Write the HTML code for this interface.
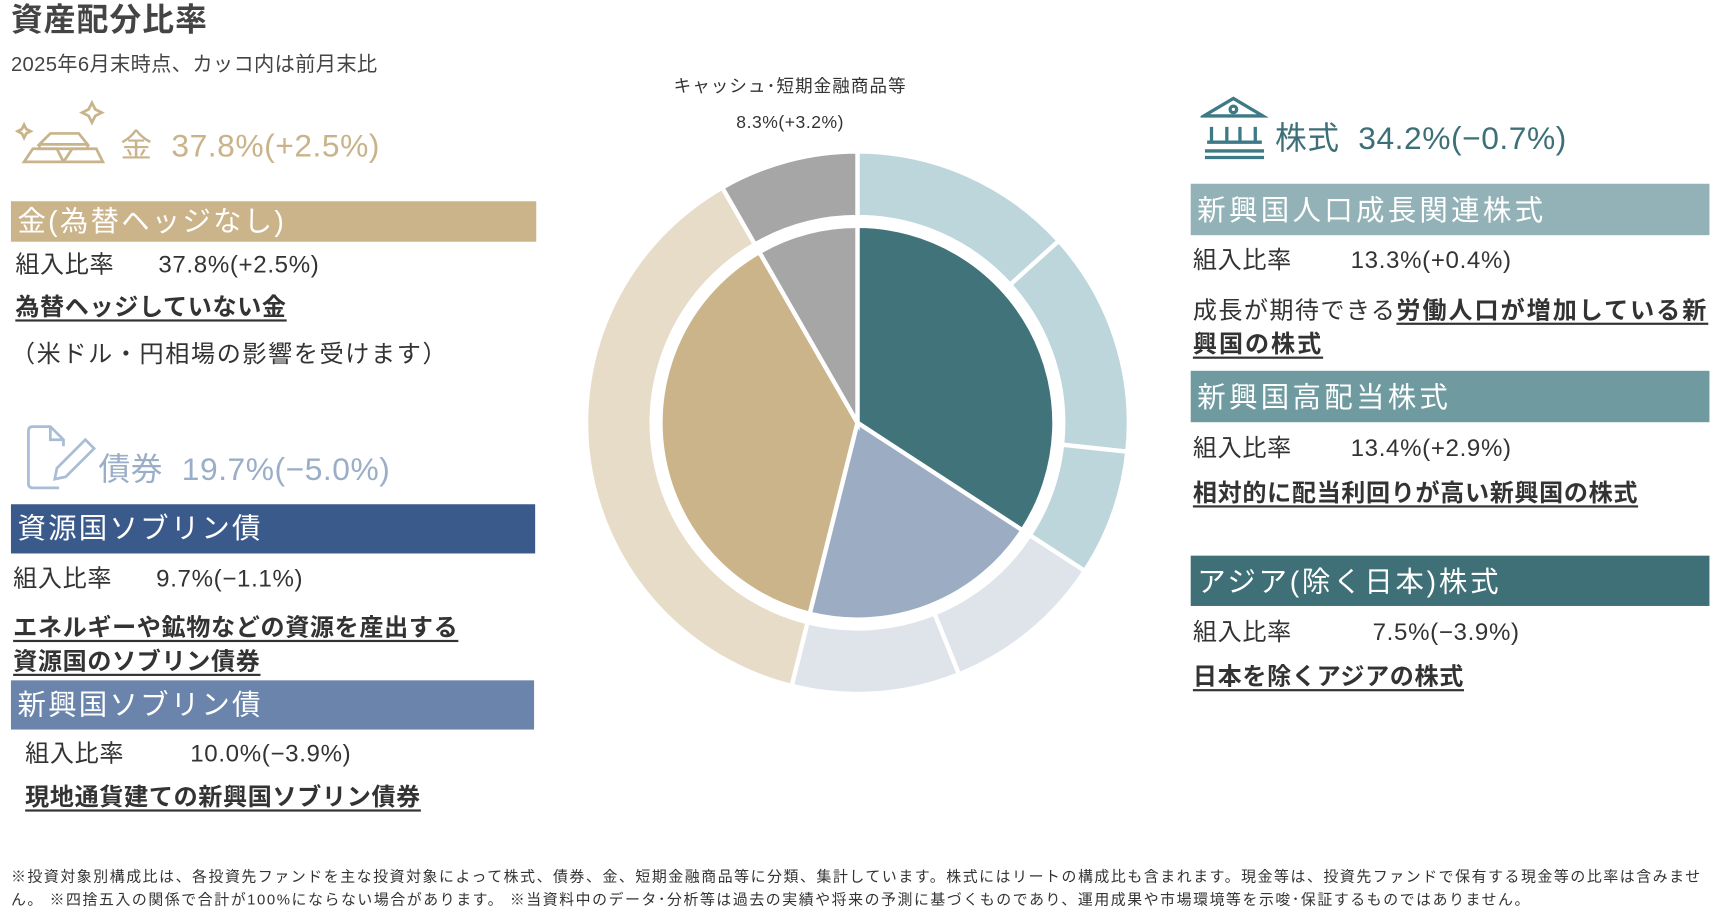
<!DOCTYPE html>
<html><head><meta charset="utf-8">
<style>
html,body{margin:0;padding:0;background:#fff;}
body{width:1716px;height:921px;overflow:hidden;font-family:"Liberation Sans","Noto Sans CJK JP",sans-serif;color:#333;}
#stage{position:absolute;left:0;top:0;width:1568px;height:842px;transform:scale(1.0944,1.0938);transform-origin:0 0;}
.a{position:absolute;white-space:nowrap;line-height:1;}
.bar{position:absolute;color:#fff;font-size:26px;line-height:1;box-sizing:border-box;padding-left:6px;letter-spacing:2px;}
.u{text-decoration:underline;text-decoration-thickness:2px;text-underline-offset:4px;font-weight:bold;color:#333;letter-spacing:2.2px;}
.r{font-size:22px;color:#333;letter-spacing:0.6px;}
</style></head><body>
<div id="stage">
<div class="a" style="left:10px;top:5px;font-size:29px;font-weight:bold;color:#444;letter-spacing:1px">資産配分比率</div>
<div class="a" style="left:10px;top:50px;font-size:18.5px;color:#444;letter-spacing:0.3px">2025年6月末時点、カッコ内は前月末比</div>

<svg style="position:absolute;left:14px;top:90px" width="85" height="65" fill="none" stroke="#c9b38a" stroke-width="2.5">
<path d="M70 4 l3 6 6 3 -6 3 -3 6 -3 -6 -6 -3 6 -3z"/><path d="M8 24 l2 4 4 2 -4 2 -2 4 -2 -4 -4 -2 4 -2z"/>
<path d="M22 42 l10 -10 h26 l8 10 z M22 42 v4 h44 v-4"/><path d="M8 58 l8 -12 h22 l6 12 z M44 58 l8 -12 h22 l6 12 z M8 58 h72"/></svg>
<div class="a" style="left:110px;top:120px;font-size:29px;color:#c9b38a;letter-spacing:0.5px">金&nbsp;&nbsp;37.8%(+2.5%)</div>
<div class="bar" style="left:10px;top:184px;width:480px;height:37px;background:#cbb38a;padding-top:5px">金(為替ヘッジなし)</div>
<div class="a r" style="left:14px;top:231px">組入比率&nbsp;&nbsp;&nbsp;&nbsp;&nbsp;&nbsp;37.8%(+2.5%)</div>
<div class="a r u" style="left:14px;top:270px">為替ヘッジしていない金</div>
<div class="a r" style="left:10px;top:313px;letter-spacing:1.5px">（米ドル・円相場の影響を受けます）</div>

<svg style="position:absolute;left:24px;top:388px" width="70" height="62" fill="none" stroke="#a9bdd6" stroke-width="2.5">
<path d="M30 58 H6 Q2 58 2 54 V6 Q2 2 6 2 H22 L34 14 V20"/><path d="M22 2 V14 H34"/><path d="M26 50 l2 -10 26 -26 8 8 -26 26 z"/></svg>
<div class="a" style="left:90px;top:416px;font-size:29px;color:#9aaec7;letter-spacing:0.5px">債券&nbsp;&nbsp;19.7%(−5.0%)</div>
<div class="bar" style="left:10px;top:461px;width:479px;height:45px;background:#3a5a8c;padding-top:9px">資源国ソブリン債</div>
<div class="a r" style="left:12px;top:518px">組入比率&nbsp;&nbsp;&nbsp;&nbsp;&nbsp;&nbsp;9.7%(−1.1%)</div>
<div class="a r u" style="left:12px;top:558px;line-height:31px">エネルギーや鉱物などの資源を産出する<br>資源国のソブリン債券</div>
<div class="bar" style="left:10px;top:622px;width:478px;height:45px;background:#6a84ab;padding-top:9px">新興国ソブリン債</div>
<div class="a r" style="left:23px;top:678px">組入比率&nbsp;&nbsp;&nbsp;&nbsp;&nbsp;&nbsp;&nbsp;&nbsp;&nbsp;10.0%(−3.9%)</div>
<div class="a r u" style="left:23px;top:718px">現地通貨建ての新興国ソブリン債券</div>

<div class="a" style="left:722px;top:72px;font-size:16px;letter-spacing:1px;transform:translateX(-50%)">キャッシュ･短期金融商品等</div>
<div class="a" style="left:722px;top:105px;font-size:16px;letter-spacing:0.5px;transform:translateX(-50%)">8.3%(+3.2%)</div>
<svg id="pie" style="position:absolute;left:0;top:0" width="1568" height="842"></svg>

<svg style="position:absolute;left:1097px;top:86px" width="62" height="60" fill="none" stroke="#3d7a86" stroke-width="3">
<path d="M3 20 L30 4 L57 20 Z"/><circle cx="30" cy="14" r="3"/><path d="M10 30 v14 M24 30 v14 M36 30 v14 M50 30 v14 M6 44 h50 M4 52 h54 M4 58 h54"/></svg>
<div class="a" style="left:1165px;top:113px;font-size:29px;color:#3d6f78;letter-spacing:0.5px">株式&nbsp;&nbsp;34.2%(−0.7%)</div>
<div class="bar" style="left:1088px;top:168px;width:474px;height:47px;background:#93b2b7;padding-top:11px;letter-spacing:3px">新興国人口成長関連株式</div>
<div class="a r" style="left:1090px;top:227px">組入比率&nbsp;&nbsp;&nbsp;&nbsp;&nbsp;&nbsp;&nbsp;&nbsp;13.3%(+0.4%)</div>
<div class="a r" style="left:1090px;top:268px;line-height:31px;letter-spacing:1.3px">成長が期待できる<span class="u" style="letter-spacing:1.8px">労働人口が増加している新<br>興国の株式</span></div>
<div class="bar" style="left:1088px;top:339px;width:474px;height:47px;background:#6e9aa0;padding-top:11px;letter-spacing:3px">新興国高配当株式</div>
<div class="a r" style="left:1090px;top:399px">組入比率&nbsp;&nbsp;&nbsp;&nbsp;&nbsp;&nbsp;&nbsp;&nbsp;13.4%(+2.9%)</div>
<div class="a r u" style="left:1090px;top:440px">相対的に配当利回りが高い新興国の株式</div>
<div class="bar" style="left:1088px;top:508px;width:474px;height:46px;background:#3f6f77;padding-top:11px;letter-spacing:2.5px">アジア(除く日本)株式</div>
<div class="a r" style="left:1090px;top:567px">組入比率&nbsp;&nbsp;&nbsp;&nbsp;&nbsp;&nbsp;&nbsp;&nbsp;&nbsp;&nbsp;&nbsp;7.5%(−3.9%)</div>
<div class="a r u" style="left:1090px;top:608px">日本を除くアジアの株式</div>

<div style="position:absolute;left:10px;top:791px;width:1556px;font-size:13.6px;line-height:21px;color:#333;letter-spacing:1.45px">※投資対象別構成比は、各投資先ファンドを主な投資対象によって株式、債券、金、短期金融商品等に分類、集計しています。株式にはリートの構成比も含まれます。現金等は、投資先ファンドで保有する現金等の比率は含みません。 ※四捨五入の関係で合計が100%にならない場合があります。 ※当資料中のデータ･分析等は過去の実績や将来の予測に基づくものであり、運用成果や市場環境等を示唆･保証するものではありません。</div>
</div>
<script>
const innerLabels=["株式","債券","金","キャッシュ等"];
const innerValues=[34.2,19.7,37.8,8.3];
const innerColors=["#40737a","#9bacc3","#cbb38a","#a6a6a6"];
const outerLabels=["新興国人口成長関連株式","新興国高配当株式","アジア(除く日本)株式","資源国ソブリン債","新興国ソブリン債","金(為替ヘッジなし)","キャッシュ等"];
const outerValues=[13.3,13.4,7.5,9.7,10.0,37.8,8.3];
const outerColors=["#bcd6db","#bcd6db","#bcd6db","#dfe4ea","#dfe4ea","#e7dcc8","#a6a6a6"];
const cx=783.5,cy=386.5;
const svg=document.getElementById('pie');
const NS='http://www.w3.org/2000/svg';
function pt(a,r){return [cx+r*Math.sin(a),cy-r*Math.cos(a)];}
function ring(vals,cols,names,r0,r1,prefix){
  const tot=vals.reduce((s,v)=>s+v,0);let a=0;
  vals.forEach((v,i)=>{
    const a1=a+v/tot*2*Math.PI;const lg=(a1-a)>Math.PI?1:0;
    const p1=pt(a,r1),p2=pt(a1,r1);let d;
    if(r0>0){const q1=pt(a1,r0),q2=pt(a,r0);
      d=`M${p1} A${r1},${r1} 0 ${lg} 1 ${p2} L${q1} A${r0},${r0} 0 ${lg} 0 ${q2} Z`;}
    else d=`M${cx},${cy} L${p1} A${r1},${r1} 0 ${lg} 1 ${p2} Z`;
    const p=document.createElementNS(NS,'path');
    p.setAttribute('d',d);p.setAttribute('fill',cols[i]);p.setAttribute('stroke','#fff');p.setAttribute('stroke-width','4');
    
    
    const t=document.createElementNS(NS,'title');t.textContent=names[i]+' '+v+'%';p.appendChild(t);
    svg.appendChild(p);a=a1;
  });
}
ring(outerValues,outerColors,outerLabels,188,248,'outer');
ring(innerValues,innerColors,innerLabels,0,180,'inner');
</script>
</body></html>
